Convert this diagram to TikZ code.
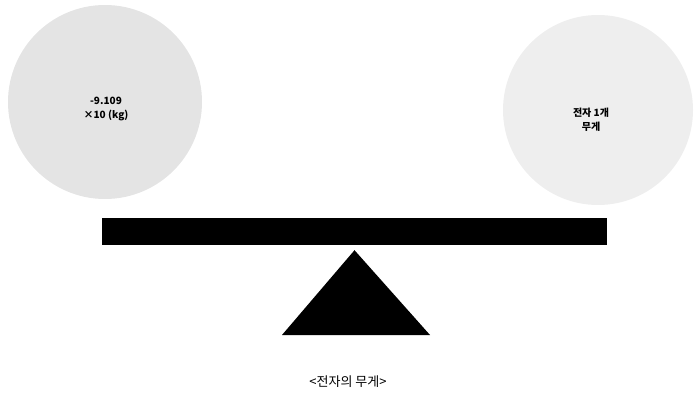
\documentclass[tikz,border=0pt]{standalone}
\usepackage{fontspec}
\newfontfamily\krfont{Noto Sans CJK KR}
\usepackage{tikz}
\usetikzlibrary{positioning}
\definecolor{ballgrey}{HTML}{E4E4E4}
\definecolor{ballpale}{HTML}{EEEEEE}

\begin{document}
\begin{tikzpicture}[
  x=1pt, y=-1pt,
  ball/.style={circle, inner sep=0pt},
  weight/.style={align=center, inner sep=0pt,
                 font=\krfont\bfseries\fontsize{10}{14}\selectfont},
  beam/.style={fill=black},
  caption/.style={font=\krfont\fontsize{13}{15}\selectfont},
]
\useasboundingbox (0,0) rectangle (696,403);

\node[ball, fill=ballgrey, minimum size=194pt] (heavy) at (105,102) {};
\node[ball, fill=ballpale, minimum size=190pt] (light) at (598,110) {};
\node[weight] (heavytxt) at (106,109) {-9.109\\ ×10 (kg)};
\node[weight] (lighttxt) at (591,120) {전자 1개\\ 무게};

% seesaw
\node[beam, minimum width=505pt, minimum height=27pt, inner sep=0pt]
  (bar) at (354.5,231.5) {};
\fill (bar.south) ++(0,5) coordinate (apex)
  -- (282,335) coordinate (bl) -- (430,335) coordinate (br) -- cycle;

\node[caption] (cap) at (348,382) {<전자의 무게>};
\end{tikzpicture}
\end{document}
